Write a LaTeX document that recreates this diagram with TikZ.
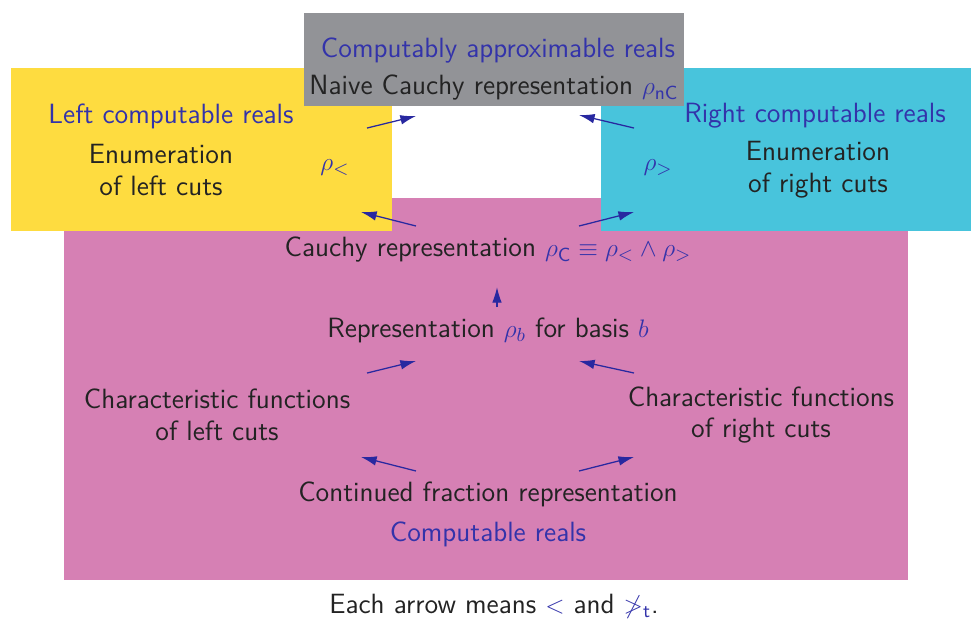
\documentclass[tikz,border=0pt]{standalone}
\usepackage{tikz}
\usetikzlibrary{arrows.meta}
\usepackage{xcolor}
\usepackage{amsmath,amssymb}
\renewcommand{\familydefault}{\sfdefault}
\definecolor{structblue}{RGB}{51,51,170}
\definecolor{arrowblue}{RGB}{40,40,160}
\definecolor{textdark}{RGB}{35,35,35}
\definecolor{pinkbg}{RGB}{214,128,180}
\definecolor{yellowbg}{RGB}{254,220,64}
\definecolor{cyanbg}{RGB}{72,196,220}
\definecolor{graybg}{RGB}{146,147,151}
\newcommand{\mth}[1]{{\color{structblue}$#1$}}
\tikzset{
  lbl/.style={text=textdark,font=\fontsize{13.2}{15}\selectfont,align=center,inner sep=1pt},
  title/.style={lbl,text=structblue},
  imp/.style={draw=arrowblue,line width=0.6pt,-{Latex[length=2.6mm,width=1.6mm]}}
}

\begin{document}
\begin{tikzpicture}
        \useasboundingbox (0,0) rectangle (16.183,10.317);
        % areas
        \fill[pinkbg] (1.067,0.65) rectangle (15.133,7.017);
        \fill[yellowbg] (0.183,6.467) rectangle (6.533,9.183);
        \fill[cyanbg] (10.017,6.467) rectangle (16.183,9.183);
        \fill[graybg] (5.067,8.55) rectangle (11.4,10.1);
        % texts
        \node[title] (approx) at (8.3,9.483) {Computably approximable reals};
        \node[lbl] (naive) at (8.233,8.85) {Naive Cauchy representation \mth{\rho_{\mathsf{nC}}}};
        \node[title] (leftreals) at (2.85,8.383) {Left computable reals};
        \node[lbl] (enumleft) at (2.683,7.483) {Enumeration\\of left cuts};
        \node[lbl] (rholess) at (5.583,7.517) {\mth{\rho_<}};
        \node[title] (rightreals) at (13.583,8.383) {Right computable reals};
        \node[lbl] (enumright) at (13.633,7.483) {Enumeration\\of right cuts};
        \node[lbl] (rhogtr) at (10.967,7.517) {\mth{\rho_>}};
        \node[lbl] (cauchy) at (8.133,6.15) {Cauchy representation \mth{\rho_{\mathsf{C}}\equiv\rho_<\wedge\rho_>}};
        \node[lbl] (basis) at (8.133,4.817) {Representation \mth{\rho_b} for basis \mth{b}};
        \node[lbl] (charleft) at (3.617,3.4) {Characteristic functions\\of left cuts};
        \node[lbl] (charright) at (12.683,3.4) {Characteristic functions\\of right cuts};
        \node[lbl] (contfrac) at (8.133,2.083) {Continued fraction representation};
        \node[title] (compreals) at (8.133,1.417) {Computable reals};
        \node[lbl] (legend) at (8.233,0.217) {Each arrow means \mth{<} and \mth{\not>_{\mathsf{t}}}.};
        % arrow ends
        \coordinate (a1s) at (6.117,8.183); \coordinate (a1e) at (6.933,8.383);
        \coordinate (a2s) at (10.567,8.183); \coordinate (a2e) at (9.65,8.4);
        \coordinate (a3s) at (6.933,6.55); \coordinate (a3e) at (6.017,6.783);
        \coordinate (a4s) at (9.65,6.55); \coordinate (a4e) at (10.567,6.783);
        \coordinate (a5s) at (8.283,5.2); \coordinate (a5e) at (8.283,5.533);
        \coordinate (a6s) at (6.117,4.1); \coordinate (a6e) at (6.933,4.3);
        \coordinate (a7s) at (10.567,4.1); \coordinate (a7e) at (9.65,4.3);
        \coordinate (a8s) at (6.933,2.467); \coordinate (a8e) at (6.017,2.7);
        \coordinate (a9s) at (9.65,2.467); \coordinate (a9e) at (10.567,2.7);
        \foreach \k in {1,...,9}
          \draw[imp] (a\k s) -- (a\k e);
      \end{tikzpicture}
\end{document}
